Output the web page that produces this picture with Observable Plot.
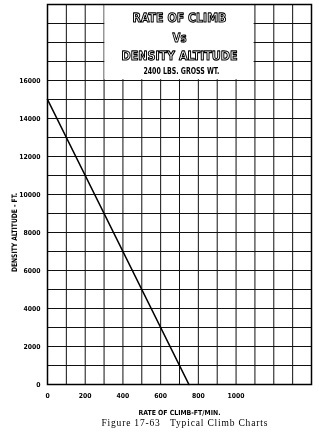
<!DOCTYPE html>
<html>
<head>
<meta charset="utf-8">
<script src="https://cdn.jsdelivr.net/npm/d3@7"></script>
<script src="https://cdn.jsdelivr.net/npm/@observablehq/plot@0.6"></script>
<style>
  html, body { margin: 0; padding: 0; background: #fff; }
  #chart { will-change: transform; }
  #chart svg { display: block; background: transparent !important; will-change: transform; }
  .outline text { text-rendering: geometricPrecision; }
</style>
</head>
<body>
<div id="chart"></div>
<script>
// Data
const rateOfClimb = [0, 750];          // ft/min
const densityAltitude = [15000, 0];    // ft
const xTickLabels = [0, 200, 400, 600, 800, 1000];
const yTickLabels = [0, 2000, 4000, 6000, 8000, 10000, 12000, 14000, 16000];
const titleLines = ["RATE OF CLIMB", "Vs", "DENSITY ALTITUDE"];
const subtitle = "2400 LBS. GROSS WT.";
const xLabel = "RATE OF CLIMB-FT/MIN.";
const yLabel = "DENSITY ALTITUDE - FT.";
const caption = "Figure 17-63\u00a0\u00a0 Typical Climb Charts";

const line = rateOfClimb.map((x, i) => ({x, y: densityAltitude[i]}));
const gridX = d3.range(0, 1401, 100);
const gridY = d3.range(0, 20001, 1000);
const titleY = [19305, 18261, 17313];
const titleLen = [94, 14, 116];

const cond = "'DejaVu Sans Condensed', 'Liberation Sans Narrow', 'DejaVu Sans', sans-serif";

const chart = Plot.plot({
  width: 319,
  height: 437,
  marginLeft: 47,
  marginRight: 8,
  marginTop: 4,
  marginBottom: 53,
  style: {background: "transparent", fontFamily: cond, color: "#000"},
  x: {domain: [0, 1400], label: null},
  y: {domain: [0, 20000], label: null},
  marks: [
    Plot.ruleX(gridX, {stroke: "#111", strokeWidth: 1}),
    Plot.ruleY(gridY, {stroke: "#111", strokeWidth: 1}),
    Plot.rect([{}], {x1: 300, x2: 1100, y1: 16000, y2: 20000, fill: "#fff", inset: 0.8}),
    Plot.frame({stroke: "#000", strokeWidth: 1.5}),
    Plot.line(line, {x: "x", y: "y", stroke: "#000", strokeWidth: 1.6}),
    Plot.axisX({ticks: xTickLabels, tickSize: 0, tickPadding: 9, fontSize: 6.8, fontWeight: "bold", label: null, tickFormat: d => String(d)}),
    Plot.axisY({ticks: yTickLabels, tickSize: 0, tickPadding: 7, fontSize: 6.8, fontWeight: "bold", label: null, tickFormat: d => String(d)}),
    Plot.text(titleLines, {
      x: () => 700, y: (d, i) => titleY[i], text: d => d,
      fontFamily: "'DejaVu Sans', sans-serif", fontWeight: "bold", fontSize: 12.5,
      fill: "white", stroke: "black", strokeWidth: 1.1, paintOrder: "fill",
      className: "outline"
    }),
    Plot.text([subtitle], {x: () => 710, y: () => 16460, text: d => d, fontSize: 8, fontWeight: "bold", fill: "#000", className: "subtitle"}),
    Plot.text([xLabel], {x: () => 700, frameAnchor: "bottom", dy: 30, text: d => d, fontSize: 7, fontWeight: "bold", fill: "#000", className: "xlabel"}),
    Plot.text([caption], {x: () => 726, frameAnchor: "bottom", dy: 41, text: d => d,
      fontFamily: "'Liberation Serif', 'DejaVu Serif', serif", fontSize: 9.5, fill: "#000", className: "caption"}),
    Plot.text([yLabel], {y: () => 8000, frameAnchor: "left", textAnchor: "middle", dx: -32.5, rotate: -90, text: d => d, fontSize: 7.5, fontWeight: "bold", fill: "#000", className: "ylabel"})
  ]
});
// condense / spread labels to match the lettering widths of the original
const sel = d3.select(chart);
sel.selectAll(".ylabel text").attr("textLength", 79).attr("lengthAdjust", "spacingAndGlyphs");
sel.selectAll(".xlabel text").attr("textLength", 82).attr("lengthAdjust", "spacingAndGlyphs");
sel.selectAll(".subtitle text").attr("textLength", 76).attr("lengthAdjust", "spacingAndGlyphs");
sel.selectAll(".caption text").attr("textLength", 166).attr("lengthAdjust", "spacing");
sel.selectAll(".outline text").each(function(d, i) {
  d3.select(this).attr("textLength", titleLen[i]).attr("lengthAdjust", "spacingAndGlyphs");
});
document.getElementById("chart").appendChild(chart);
</script>
</body>
</html>
